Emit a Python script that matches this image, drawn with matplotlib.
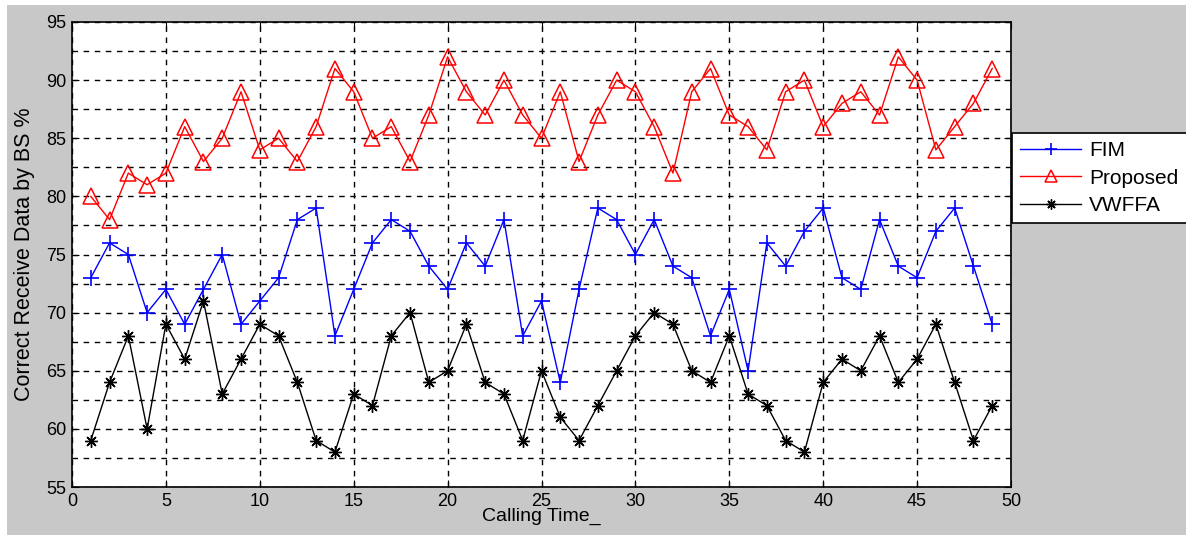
import numpy as np
import matplotlib.pyplot as plt
from matplotlib.ticker import MultipleLocator
from matplotlib.patches import Rectangle

plt.rcParams['font.family'] = ['Liberation Sans', 'DejaVu Sans']

# calling time index
calls = list(range(1, 50))

fim = [73, 76, 75, 70, 72, 69, 72, 75, 69, 71, 73, 78, 79, 68, 72, 76, 78, 77, 74, 72,
       76, 74, 78, 68, 71, 64, 72, 79, 78, 75, 78, 74, 73, 68, 72, 65, 76, 74, 77, 79,
       73, 72, 78, 74, 73, 77, 79, 74, 69]
proposed = [80, 78, 82, 81, 82, 86, 83, 85, 89, 84, 85, 83, 86, 91, 89, 85, 86, 83, 87, 92,
            89, 87, 90, 87, 85, 89, 83, 87, 90, 89, 86, 82, 89, 91, 87, 86, 84, 89, 90, 86,
            88, 89, 87, 92, 90, 84, 86, 88, 91]
vwffa = [59, 64, 68, 60, 69, 66, 71, 63, 66, 69, 68, 64, 59, 58, 63, 62, 68, 70, 64, 65,
         69, 64, 63, 59, 65, 61, 59, 62, 65, 68, 70, 69, 65, 64, 68, 63, 62, 59, 58, 64,
         66, 65, 68, 64, 66, 69, 64, 59, 62]

fig = plt.figure(figsize=(11.86, 5.37), dpi=100, facecolor='white')
# grey window area with a thin white margin on the left / top
fig.patches.append(Rectangle((7/1186, 2/537), 1 - 7/1186, 1 - 7/537,
                             transform=fig.transFigure, facecolor='#c8c8c8',
                             edgecolor='none', zorder=-10))

ax = fig.add_axes([72/1186, 50/537, 939/1186, 465/537])
ax.set_facecolor('white')

ax.plot(calls, fim, color='blue', lw=1, marker='+', ms=11, mew=1.2, label='FIM')
ax.plot(calls, proposed, color='red', lw=1, marker='^', ms=11, mfc='none', mew=1.1, label='Proposed')
ax.plot(calls, vwffa, color='black', lw=1, marker=(8, 2, 0), ms=9, mew=1.0, label='VWFFA')

ax.set_xlim(0, 50)
ax.set_ylim(55, 95)
ax.xaxis.set_major_locator(MultipleLocator(5))
ax.yaxis.set_major_locator(MultipleLocator(5))
ax.yaxis.set_minor_locator(MultipleLocator(2.5))
ax.tick_params(which='major', direction='in', top=True, right=True, length=5, labelsize=13, pad=4)
ax.tick_params(which='minor', length=0)
ax.grid(True, which='both', axis='y', color='black', ls=(0, (4, 4)), lw=1)
ax.grid(True, which='major', axis='x', color='black', ls=(0, (4, 4)), lw=1)
for s in ax.spines.values():
    s.set_linewidth(1.2)

ax.set_xlabel('Calling Time_', fontsize=14, labelpad=-1)
ax.set_ylabel('Correct Receive Data by BS %', fontsize=15.5, labelpad=8)

leg = ax.legend(loc='upper left', bbox_to_anchor=(1012/1186, 1 - 133/537),
                bbox_transform=fig.transFigure, fancybox=False, framealpha=1,
                edgecolor='black', fontsize=15, borderaxespad=0, handlelength=2.9,
                handletextpad=0.4, borderpad=0.4, labelspacing=0.4, markerscale=0.8)
leg.get_frame().set_linewidth(1.2)

fig.savefig('out.png', dpi=100, facecolor=fig.get_facecolor())
